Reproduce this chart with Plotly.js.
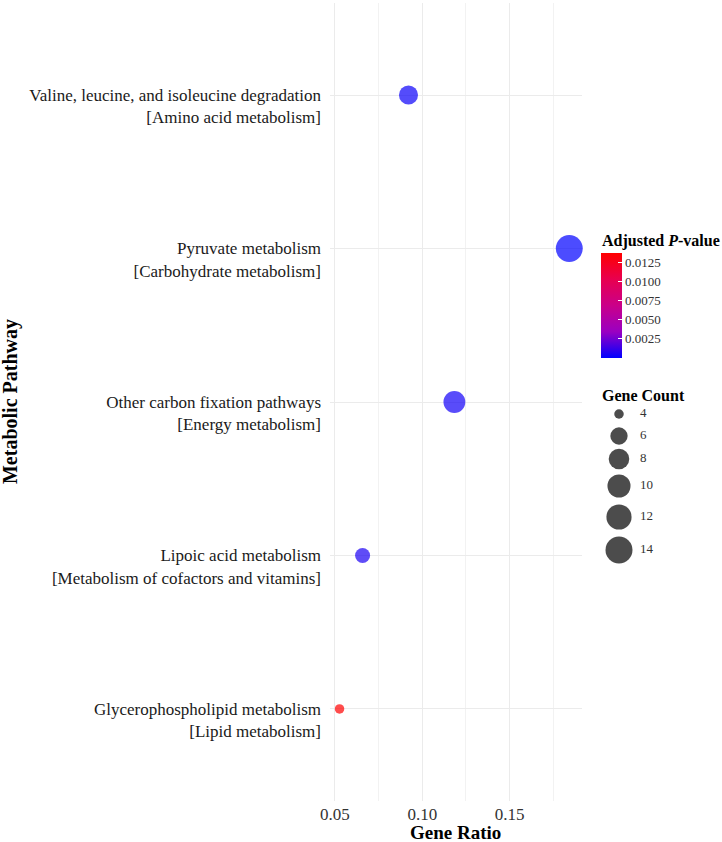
<!DOCTYPE html>
<html>
<head>
<meta charset="utf-8">
<script src="https://cdn.plot.ly/plotly-3.0.1.min.js"></script>
<style>
  html, body { margin: 0; padding: 0; background: #ffffff; }
  #chart { width: 722px; height: 842px; }
</style>
</head>
<body>
<div id="chart"></div>
<script>
// KEGG pathway enrichment: one bubble per pathway
const pathways = [
  "Valine, leucine, and isoleucine degradation",
  "Pyruvate metabolism",
  "Other carbon fixation pathways",
  "Lipoic acid metabolism",
  "Glycerophospholipid metabolism"
];
const pathwayClasses = [
  "Amino acid metabolism",
  "Carbohydrate metabolism",
  "Energy metabolism",
  "Metabolism of cofactors and vitamins",
  "Lipid metabolism"
];
const geneRatio = [0.0921, 0.1842, 0.1184, 0.0658, 0.0526];
const geneCount = [7, 14, 9, 5, 4];
const adjPValue = [0.00028, 0.00002, 0.00041, 0.00063, 0.0137];

// Legend and axis tick values
const pTicks = [0.0025, 0.0050, 0.0075, 0.0100, 0.0125];
const countTicks = [4, 6, 8, 10, 12, 14];
const ratioTicks = [0.05, 0.10, 0.15];

const SERIF = "Liberation Serif, Times New Roman, serif";
const TEXT = "#1a1a1a";

// Size scale: diameter grows with the square root of the rescaled count
const cMin = Math.min(...geneCount), cMax = Math.max(...geneCount);
const dMin = 9.5, dMax = 27;
function bubbleSize(c) {
  const t = (c - cMin) / (cMax - cMin);
  return dMin + (dMax - dMin) * Math.sqrt(Math.max(0, t));
}

// Blue -> red ramp interpolated through purple / magenta
const pScale = [
  [0.00, "rgb(0,0,255)"],
  [0.25, "rgb(154,0,194)"],
  [0.50, "rgb(202,0,137)"],
  [0.75, "rgb(232,0,79)"],
  [1.00, "rgb(255,0,0)"]
];

const tickText = pathways.map((p, i) => "\u00a0<br>" + p + "<br>[" + pathwayClasses[i] + "]");

const bubbles = {
  type: "scatter",
  mode: "markers",
  x: geneRatio,
  y: pathways,
  xaxis: "x",
  yaxis: "y",
  cliponaxis: false,
  hoverinfo: "x+y",
  showlegend: false,
  marker: {
    size: geneCount.map(bubbleSize),
    sizemode: "diameter",
    color: adjPValue,
    cmin: Math.min(...adjPValue),
    cmax: Math.max(...adjPValue),
    colorscale: pScale,
    opacity: 0.7,
    line: { width: 0 },
    colorbar: {
      thickness: 21, thicknessmode: "pixels",
      len: 105, lenmode: "pixels",
      x: 0.691, xanchor: "left", xref: "paper", xpad: 0,
      y: 0.621, yanchor: "middle", yref: "paper", ypad: 0,
      outlinewidth: 0,
      tickmode: "array",
      tickvals: pTicks,
      ticktext: pTicks.map(v => v.toFixed(4)),
      ticks: "inside", ticklen: 4, tickcolor: "#ffffff", tickwidth: 1,
      ticklabelstandoff: 3,
      tickfont: { family: SERIF, size: 13, color: "#333" }
    }
  }
};

// Size legend drawn on its own pixel-like axes to the right of the panel
const legendRowsY = [414, 436, 459, 486, 517, 550];
const sizeKeys = {
  type: "scatter",
  mode: "markers",
  x: countTicks.map(() => 619),
  y: legendRowsY,
  xaxis: "x2",
  yaxis: "y2",
  cliponaxis: false,
  hoverinfo: "skip",
  showlegend: false,
  marker: {
    size: countTicks.map(bubbleSize),
    sizemode: "diameter",
    color: "rgb(0,0,0)",
    opacity: 0.7,
    line: { width: 0 }
  }
};
const sizeLabels = {
  type: "scatter",
  mode: "text",
  x: countTicks.map(() => 640),
  y: legendRowsY,
  text: countTicks.map(String),
  textposition: "middle right",
  textfont: { family: SERIF, size: 13, color: "#333" },
  xaxis: "x2",
  yaxis: "y2",
  cliponaxis: false,
  hoverinfo: "skip",
  showlegend: false
};

const layout = {
  width: 722,
  height: 842,
  margin: { l: 330, r: 0, t: 3, b: 41, pad: 0 },
  paper_bgcolor: "#ffffff",
  plot_bgcolor: "#ffffff",
  showlegend: false,
  font: { family: SERIF, color: TEXT },
  xaxis: {
    domain: [0, 0.6429],
    range: [0.04714, 0.1915],
    tickmode: "array",
    tickvals: ratioTicks,
    ticktext: ratioTicks.map(v => v.toFixed(2)),
    showgrid: true,
    gridcolor: "#ebebeb",
    gridwidth: 1,
    minor: { tickmode: "array", tickvals: [0.075, 0.125, 0.175],
             showgrid: true, gridcolor: "#efefef", gridwidth: 0.8 },
    zeroline: false,
    showline: false,
    ticks: "",
    ticklabelstandoff: 1,
    tickfont: { family: SERIF, size: 17, color: "#333" }
  },
  yaxis: {
    type: "category",
    categoryorder: "array",
    categoryarray: pathways,
    range: [4.6, -0.6],
    tickmode: "array",
    tickvals: pathways,
    ticktext: tickText,
    showgrid: true,
    gridcolor: "#ebebeb",
    gridwidth: 1,
    zeroline: false,
    showline: false,
    ticks: "",
    ticklabelstandoff: 8,
    tickfont: { family: SERIF, size: 17, color: TEXT }
  },
  xaxis2: {
    domain: [0.6607, 1], range: [589, 722],
    visible: false, fixedrange: true
  },
  yaxis2: {
    domain: [0, 1], range: [801, 3],
    visible: false, fixedrange: true, anchor: "x2"
  },
  annotations: [
    {
      text: "<b>Metabolic Pathway</b>",
      textangle: -90,
      xref: "paper", yref: "paper",
      x: -0.8163, y: 0.5,
      xanchor: "center", yanchor: "middle",
      showarrow: false,
      font: { family: SERIF, size: 20, color: "#000" }
    },
    {
      text: "<b>Gene Ratio</b>",
      xref: "x", yref: "paper",
      x: 0.1193, y: -0.0401,
      xanchor: "center", yanchor: "middle",
      showarrow: false,
      font: { family: SERIF, size: 19, color: "#000" }
    },
    {
      text: "<b>Adjusted <i>P</i>-value</b>",
      xref: "x2", yref: "y2",
      x: 600, y: 241,
      xanchor: "left", yanchor: "middle",
      showarrow: false,
      font: { family: SERIF, size: 16, color: "#000" }
    },
    {
      text: "<b>Gene Count</b>",
      xref: "x2", yref: "y2",
      x: 600, y: 395,
      xanchor: "left", yanchor: "middle",
      showarrow: false,
      font: { family: SERIF, size: 16, color: "#000" }
    }
  ]
};

Plotly.newPlot("chart", [bubbles, sizeKeys, sizeLabels], layout,
               { displayModeBar: false, staticPlot: true });
</script>
</body>
</html>
